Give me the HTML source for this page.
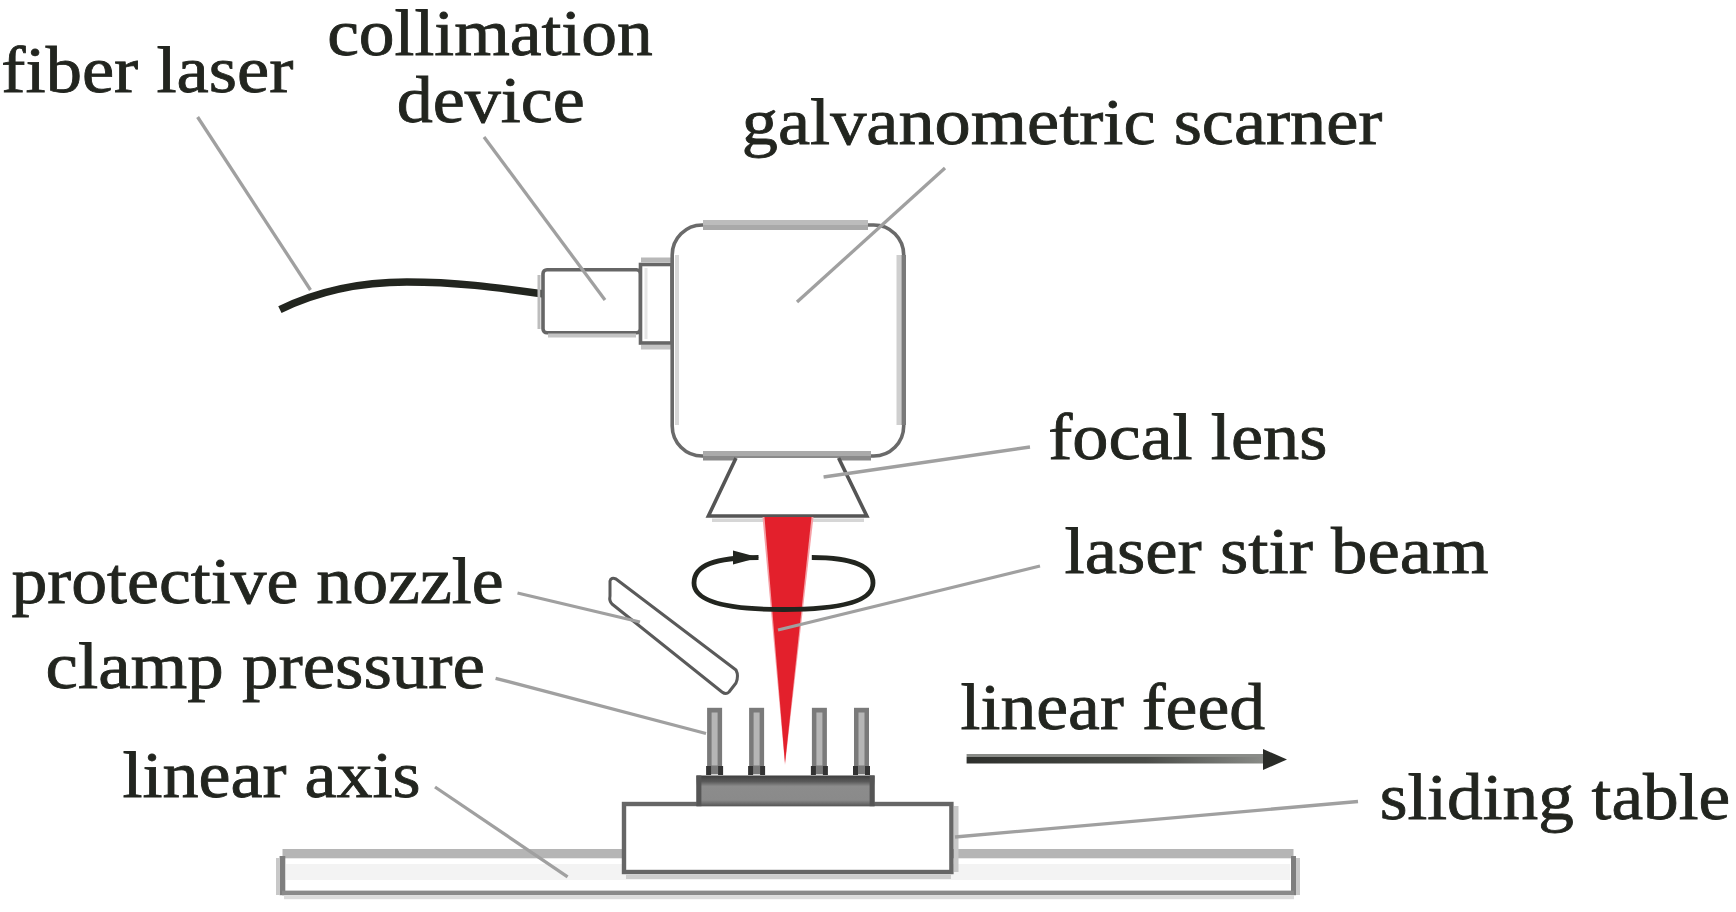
<!DOCTYPE html>
<html><head><meta charset="utf-8"><style>
html,body{margin:0;padding:0;background:#fff;}
body{width:1736px;height:912px;overflow:hidden;position:relative;}
svg{position:absolute;left:0;top:0;}
text{font-family:"Liberation Serif",serif;font-size:65.2px;fill:#22251f;stroke:#22251f;stroke-width:0.8px;}
</style></head><body>
<svg width="1736" height="912" viewBox="0 0 1736 912">

<defs>
  <linearGradient id="arrowg" x1="0" y1="0" x2="1" y2="0">
    <stop offset="0" stop-color="#2e302c"/>
    <stop offset="0.6" stop-color="#4a4c48"/>
    <stop offset="1" stop-color="#8a8c88"/>
  </linearGradient>
  <linearGradient id="plateg" x1="0" y1="0" x2="0" y2="1">
    <stop offset="0" stop-color="#3e3e3e"/>
    <stop offset="0.2" stop-color="#5a5a5a"/>
    <stop offset="0.35" stop-color="#8c8c8c"/>
    <stop offset="0.8" stop-color="#8a8a8a"/>
    <stop offset="1" stop-color="#555"/>
  </linearGradient>
</defs>
<!-- fiber cable -->
<path d="M279.9,309.6 C320,290 360,282 406.9,282 C460,282 500,288 543.4,294" stroke="#22251f" stroke-width="7.5" fill="none"/>
<!-- collimation box -->
<rect x="543" y="269.7" width="97.5" height="63.1" rx="4" fill="#fff" stroke="#666" stroke-width="3.6"/>
<rect x="548" y="333.5" width="88" height="4" fill="#c4c4c4"/>
<rect x="537.5" y="275" width="3" height="54" fill="#bdbdbd"/>
<!-- coupler -->
<rect x="640.5" y="264.5" width="31.5" height="78.5" fill="#fff" stroke="#666" stroke-width="3.6"/>
<rect x="641" y="257.5" width="30" height="5" fill="#b8b8b8"/>
<rect x="641" y="345" width="30" height="4.5" fill="#c4c4c4"/>
<rect x="644.5" y="268" width="3" height="71" fill="#e6e6e6"/>
<!-- galvo box -->
<rect x="672.2" y="225" width="231.5" height="231" rx="30" fill="#fff" stroke="#6a6a6a" stroke-width="3.6"/>
<rect x="703" y="220" width="165" height="5" fill="#bcbcbc"/>
<rect x="703" y="225" width="165" height="5" fill="#a9a9a9"/>
<rect x="675" y="255" width="4" height="170" fill="#d8d8d8"/>
<rect x="896.5" y="255" width="5" height="170" fill="#cfcfcf"/>
<rect x="901.5" y="255" width="4.5" height="170" fill="#7a7a7a"/>
<rect x="703" y="451" width="168" height="5" fill="#aaaaaa"/>
<rect x="703" y="456" width="168" height="4.5" fill="#8a8a8a"/>
<!-- lens -->
<path d="M736,458 L708.4,516 L866.8,516 L838.6,458" fill="#fff" stroke="#555" stroke-width="3.6" stroke-linejoin="miter"/>
<rect x="712" y="518.5" width="152" height="3.5" fill="#d6d6d6"/>
<!-- beam -->
<path d="M762.5,517 L813.5,517 L785,765 Z" fill="#f5a0a6"/>
<path d="M764.5,517 L811.5,517 L785,763 Z" fill="#e3202c"/>
<!-- ellipse -->
<g stroke="#22251f" stroke-width="4.8" fill="none" stroke-linecap="butt">
  <path d="M811.8,557.5 C850,557.5 873,565 873,583 C873,600 845,609.5 783.5,609.5 C722,609.5 694,600 694,583 C694,565 715,557.5 758.5,557.5" />
</g>
<path d="M733,550.5 L759,557.5 L733,564.5 Z" fill="#22251f"/>
<!-- nozzle -->
<path d="M610,581 Q611,577 616,579 L736,670 Q739,676 736,683 L729,692 Q726,695 722,692 L612,604 Q609,601 610,596 Z" fill="#fff" stroke="#5a5a5a" stroke-width="3" stroke-linejoin="round"/>
<!-- rail -->
<rect x="277" y="849" width="1023" height="51" fill="#fff"/>
<rect x="282.5" y="849" width="1011" height="9.3" fill="#b5b5b5"/>
<rect x="286" y="864" width="1004" height="16" fill="#f3f3f3"/>
<rect x="279.6" y="856" width="5.7" height="39.2" fill="#7e7e7e"/>
<rect x="276" y="858" width="3.6" height="37" fill="#c8c8c8"/>
<rect x="1291" y="856" width="5" height="39.2" fill="#7e7e7e"/>
<rect x="1296" y="858" width="4" height="37" fill="#c8c8c8"/>
<rect x="282" y="890.6" width="1012" height="4.6" fill="#8a8a8a"/>
<rect x="284" y="895.2" width="1010" height="4" fill="#dcdcdc"/>
<!-- sliding table -->
<rect x="624" y="804" width="327.4" height="68" fill="#fff" stroke="#666" stroke-width="4.4"/>
<rect x="954" y="806" width="4.5" height="66" fill="#c8c8c8"/>
<rect x="626" y="874.5" width="325" height="4.5" fill="#cdcdcd"/>
<!-- base plate -->
<rect x="696.4" y="775.5" width="178.2" height="30.7" fill="url(#plateg)"/>
<rect x="696.4" y="775.5" width="5" height="30.7" fill="#555"/>
<rect x="869.6" y="775.5" width="5" height="30.7" fill="#555"/>
<!-- pins -->
<g>
  <rect x="707.1" y="707.8" width="15" height="66.5" fill="#7a7a7a"/>
  <rect x="711.6" y="712.5" width="6" height="53" fill="#b6b6b6"/>
  <rect x="706.1" y="766" width="5" height="9" fill="#333"/>
  <rect x="718.1" y="766" width="5" height="9" fill="#333"/>
  <rect x="749.1" y="707.8" width="15" height="66.5" fill="#7a7a7a"/>
  <rect x="753.6" y="712.5" width="6" height="53" fill="#b6b6b6"/>
  <rect x="748.1" y="766" width="5" height="9" fill="#333"/>
  <rect x="760.1" y="766" width="5" height="9" fill="#333"/>
  <rect x="811.9" y="707.8" width="15" height="66.5" fill="#7a7a7a"/>
  <rect x="816.4" y="712.5" width="6" height="53" fill="#b6b6b6"/>
  <rect x="810.9" y="766" width="5" height="9" fill="#333"/>
  <rect x="822.9" y="766" width="5" height="9" fill="#333"/>
  <rect x="854.0" y="707.8" width="15" height="66.5" fill="#7a7a7a"/>
  <rect x="858.5" y="712.5" width="6" height="53" fill="#b6b6b6"/>
  <rect x="853.0" y="766" width="5" height="9" fill="#333"/>
  <rect x="865.0" y="766" width="5" height="9" fill="#333"/>
</g>
<!-- linear feed arrow -->
<rect x="966.6" y="754" width="298" height="3" fill="#8a8c88"/>
<rect x="966.6" y="757" width="298" height="6.5" fill="url(#arrowg)"/>
<path d="M1263,749 L1287,759.5 L1263,770 Z" fill="#2a2c28"/>
<!-- pointer lines -->
<g stroke="#a0a0a0" stroke-width="3.3" fill="none" stroke-linecap="butt">
  <line x1="197.6" y1="117" x2="310.5" y2="290"/>
  <line x1="484" y1="137" x2="605" y2="300"/>
  <line x1="945" y1="168" x2="797" y2="302"/>
  <line x1="1030" y1="447" x2="823.6" y2="477"/>
  <line x1="1040" y1="566" x2="778" y2="630"/>
  <line x1="517.5" y1="593" x2="640" y2="622"/>
  <line x1="495.6" y1="678.3" x2="706" y2="733.5"/>
  <line x1="435" y1="787" x2="567.6" y2="876.8"/>
  <line x1="955" y1="837" x2="1358" y2="801.5"/>
</g>

<g>
<text transform="translate(1.32,92.00) scale(1.1128,1)">fiber laser</text>
<text transform="translate(327.14,54.80) scale(1.0965,1)">collimation</text>
<text transform="translate(396.72,122.00) scale(1.1057,1)">device</text>
<text transform="translate(741.81,143.70) scale(1.1095,1)">galvanometric scarner</text>
<text transform="translate(1048.13,459.00) scale(1.1096,1)">focal lens</text>
<text transform="translate(1064.55,572.70) scale(1.1152,1)">laser stir beam</text>
<text transform="translate(11.46,603.00) scale(1.1009,1)">protective nozzle</text>
<text transform="translate(45.58,688.00) scale(1.1187,1)">clamp pressure</text>
<text transform="translate(122.56,797.00) scale(1.1052,1)">linear axis</text>
<text transform="translate(960.57,728.80) scale(1.0998,1)">linear feed</text>
<text transform="translate(1379.65,818.80) scale(1.0939,1)">sliding table</text>
</g>
</svg>
</body></html>
